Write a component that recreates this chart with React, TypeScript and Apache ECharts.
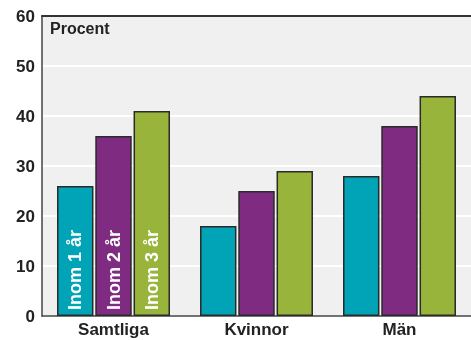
import React, { useEffect, useRef } from "react";
import * as echarts from "echarts";

const categories = ["Samtliga", "Kvinnor", "Män"];
const seriesNames = ["Inom 1 år", "Inom 2 år", "Inom 3 år"];
const inom1 = [26, 18, 28];
const inom2 = [36, 25, 38];
const inom3 = [41, 29, 44];
const yTicks = [0, 10, 20, 30, 40, 50, 60];
const colors = ["#00a4b6", "#7f2b82", "#98b43a"];

export default function App() {
  const ref = useRef<HTMLDivElement>(null);
  useEffect(() => {
    if (!ref.current) return;
    const chart = echarts.init(ref.current, null, { renderer: "svg" });
    const font = "Liberation Sans, Arial, sans-serif";
    const mk = (vals: number[], idx: number) => ({
      name: seriesNames[idx],
      type: "bar",
      barGap: "5%",
      barCategoryGap: "21%",
      itemStyle: { color: colors[idx], borderColor: "#2a2a2a", borderWidth: 1.5 },
      data: vals.map((v, i) =>
        i === 0
          ? {
              value: v,
              label: {
                show: true,
                position: "insideBottom",
                rotate: 90,
                align: "left",
                verticalAlign: "middle",
                distance: 6,
                formatter: seriesNames[idx],
                color: "#fff",
                fontFamily: font,
                fontWeight: "bold",
                fontSize: 18,
              },
            }
          : { value: v }
      ),
    });
    chart.setOption({
      animation: false,
      grid: {
        left: 42,
        top: 16,
        width: 432,
        height: 300,
        show: true,
        backgroundColor: "#f0f0f0",
        borderWidth: 0,
      },
      xAxis: [
        {
          type: "category",
          data: categories,
          axisTick: { show: false },
          axisLine: { lineStyle: { color: "#444", width: 1.5 } },
          axisLabel: { color: "#222", fontSize: 17, fontFamily: font, margin: 5, fontWeight: "bold" },
        },
        {
          type: "category",
          position: "top",
          data: categories,
          axisTick: { show: false },
          axisLabel: { show: false },
          axisLine: { show: true, lineStyle: { color: "#333", width: 2 } },
        },
      ],
      yAxis: {
        type: "value",
        min: yTicks[0],
        max: yTicks[yTicks.length - 1],
        interval: 10,
        axisLine: { show: true, lineStyle: { color: "#444", width: 1.5 } },
        axisTick: { show: false },
        splitLine: { lineStyle: { color: "#ffffff", width: 2 } },
        axisLabel: { color: "#222", fontSize: 17, fontFamily: font, margin: 7, fontWeight: "bold" },
      },
      graphic: [
        {
          type: "text",
          left: 50,
          top: 20,
          style: { text: "Procent", fill: "#222", font: `bold 16px ${font}` },
        },
      ],
      series: [mk(inom1, 0), mk(inom2, 1), mk(inom3, 2)],
    });
    return () => chart.dispose();
  }, []);
  return (
    <div
      ref={ref}
      style={{ position: "fixed", left: 0, top: 0, width: 471, height: 340 }}
    />
  );
}
